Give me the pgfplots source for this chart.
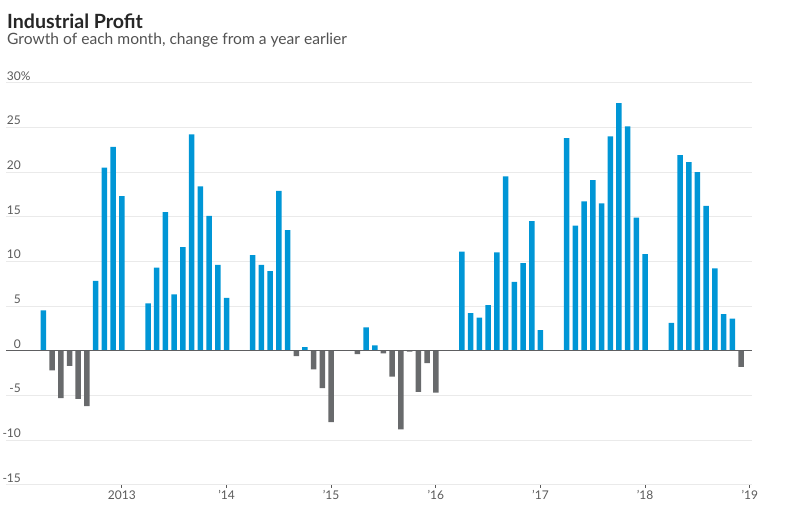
\documentclass[border=0pt]{standalone}
\usepackage{fontspec}
\setmainfont{Lato}
\usepackage{pgfplots}
\pgfplotsset{compat=1.18}

\definecolor{barblue}{RGB}{0,150,214}
\definecolor{bargrey}{RGB}{104,106,108}
\definecolor{gridgrey}{RGB}{234,234,234}
\definecolor{labelgrey}{RGB}{90,90,90}

\begin{document}
\begin{tikzpicture}[x=1pt,y=1pt]
\path[use as bounding box] (0,0) rectangle (800,507);

\node[anchor=base west, inner sep=0pt, text=black!85] at (7,478.7)
  {\fontsize{19.6}{22}\selectfont\bfseries Industrial Profit};
\node[anchor=base west, inner sep=0pt, text=black!68] at (7,462)
  {\fontsize{15.6}{18}\selectfont Growth of each month, change from a year earlier};

\begin{axis}[
    at={(7,25)}, anchor=south west,
    scale only axis,
    width=745.7pt, height=402pt,
    xmin=-1.27, xmax=84.23,
    ymin=-15, ymax=30,
    axis line style={draw=none},
    ymajorgrids, grid style={gridgrey, line width=1pt},
    ytick={-15,-10,-5,0,5,10,15,20,25,30},
    yticklabels={-15,-10,-5,0,5,10,15,20,25,30\rlap{\%}},
    ytick style={draw=none},
    yticklabel style={anchor=base east, inner sep=0pt, xshift=18pt, yshift=2.5pt,
        font=\fontsize{12}{14}\selectfont, text=labelgrey},
    xtick={12,24,36,48,60,72,84},
    xticklabels={2013,’14,’15,’16,’17,’18,’19},
    xtick pos=bottom, tick align=outside,
    major tick length=3pt,
    xtick style={labelgrey, line width=0.8pt},
    xticklabel style={anchor=base, inner sep=0pt, yshift=-12pt,
        font=\fontsize{12}{14}\selectfont, text=labelgrey},
    ybar, bar width=5.5pt, bar shift=0pt,
  ]
% positive months
\addplot[draw=none, fill=barblue] coordinates {
  (3,4.5) (9,7.8) (10,20.5) (11,22.8) (12,17.3)
  (15,5.3) (16,9.3) (17,15.5) (18,6.3) (19,11.6) (20,24.2) (21,18.4) (22,15.1) (23,9.6) (24,5.9)
  (27,10.7) (28,9.6) (29,8.9) (30,17.9) (31,13.5) (33,0.4)
  (40,2.6) (41,0.6)
  (51,11.1) (52,4.2) (53,3.7) (54,5.1) (55,11.0) (56,19.5) (57,7.7) (58,9.8) (59,14.5) (60,2.3)
  (63,23.8) (64,14.0) (65,16.7) (66,19.1) (67,16.5) (68,24.0) (69,27.7) (70,25.1) (71,14.9) (72,10.8)
  (75,3.1) (76,21.9) (77,21.1) (78,20.0) (79,16.2) (80,9.2) (81,4.1) (82,3.6)
};
% negative months
\addplot[draw=none, fill=bargrey] coordinates {
  (4,-2.2) (5,-5.3) (6,-1.7) (7,-5.4) (8,-6.2)
  (32,-0.6) (34,-2.1) (35,-4.2) (36,-8.0)
  (39,-0.4) (42,-0.3) (43,-2.9) (44,-8.8) (45,-0.1) (46,-4.6) (47,-1.4) (48,-4.7)
  (83,-1.8)
};
\draw[bargrey!90!black, line width=1pt]
  ({rel axis cs:0,0}|-{axis cs:0,0}) -- ({rel axis cs:1,0}|-{axis cs:0,0});
\end{axis}
\end{tikzpicture}
\end{document}
